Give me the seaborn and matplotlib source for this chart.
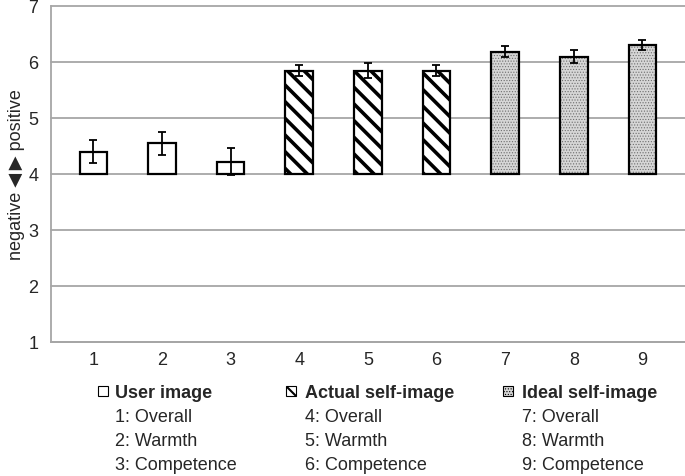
import numpy as np
import pandas as pd
import matplotlib
matplotlib.use('Agg')
import matplotlib.pyplot as plt
import seaborn as sns
from matplotlib.patches import Rectangle

# data
items = ['1', '2', '3', '4', '5', '6', '7', '8', '9']
groups = ['User image'] * 3 + ['Actual self-image'] * 3 + ['Ideal self-image'] * 3
means = [4.40, 4.55, 4.22, 5.85, 5.85, 5.85, 6.19, 6.10, 6.31]
errors = [0.21, 0.21, 0.24, 0.10, 0.14, 0.10, 0.10, 0.11, 0.09]
group_names = ['User image', 'Actual self-image', 'Ideal self-image']
aspect_names = ['Overall', 'Warmth', 'Competence']
baseline = 4

sns.set_style('white')
plt.rcParams['font.family'] = ['Liberation Sans', 'DejaVu Sans']

styles = {
    'User image': dict(fc='white', hatch=None, hc='black', hlw=1.0),
    'Actual self-image': dict(fc='white', hatch='\\\\', hc='black', hlw=2.6),
    'Ideal self-image': dict(fc='#d6d6d6', hatch='......', hc='#6e6e6e', hlw=0.5),
}

df = pd.DataFrame({'item': items, 'group': groups, 'mean': means})
df['height'] = df['mean'] - baseline

fig = plt.figure(figsize=(6.85, 4.76), dpi=100)
ax = fig.add_axes([0.074, 0.2815, 0.926, 0.7055])

# filled / hatched bars per group
for g in group_names:
    st = styles[g]
    sub = df[df['group'] == g]
    with plt.rc_context({'hatch.linewidth': st['hlw']}):
        sns.barplot(data=sub, x='item', y='height', order=items, bottom=baseline,
                    width=0.4, color=st['fc'], saturation=1, errorbar=None,
                    hatch=st['hatch'], edgecolor=st['hc'], linewidth=0,
                    zorder=2, ax=ax)

# black outlines
sns.barplot(data=df, x='item', y='height', order=items, bottom=baseline,
            width=0.4, fill=False, color='black', linewidth=1.6,
            errorbar=None, zorder=3, ax=ax)

ax.errorbar(x=np.arange(len(items)), y=means, yerr=errors, fmt='none',
            ecolor='black', elinewidth=1.3, capsize=2.6, capthick=1.3, zorder=5)

ax.set_ylim(1, 7)
ax.set_yticks(range(1, 8))
ax.yaxis.grid(True, color='#a6a6a6', linewidth=1.3)
for line in ax.get_ygridlines():
    line.set_clip_on(False)
ax.set_axisbelow(True)
for s in ['top', 'right']:
    ax.spines[s].set_visible(False)
for s in ['left', 'bottom']:
    ax.spines[s].set_color('#a6a6a6')
    ax.spines[s].set_linewidth(1.3)
ax.tick_params(axis='y', length=4, color='#a6a6a6', width=1.3, pad=5, labelsize=13)
ax.tick_params(axis='x', length=0, pad=7, labelsize=13)
ax.set_xlabel('')
ax.set_ylabel('negative \u25c0\u2009\u25b6 positive', fontsize=13, labelpad=2)

# legend block below the axis
text_x = [115, 305, 522]
box_x = [98, 286, 503]
for i, g in enumerate(group_names):
    st = styles[g]
    with plt.rc_context({'hatch.linewidth': min(st['hlw'], 1.5)}):
        fig.add_artist(Rectangle((box_x[i] / 685, 1 - 396 / 476), 10 / 685, 10 / 476,
                                 transform=fig.transFigure, facecolor=st['fc'],
                                 hatch=st['hatch'], edgecolor='black', linewidth=0.8))
    fig.text(text_x[i] / 685, 1 - 393 / 476, g, fontsize=13, fontweight='bold',
             va='center', ha='left')
    for j, name in enumerate(aspect_names):
        fig.text(text_x[i] / 685, 1 - (418 + 24 * j) / 476, f'{i * 3 + j + 1}: {name}',
                 fontsize=13, va='center', ha='left')

fig.savefig('out.png', dpi=100)
